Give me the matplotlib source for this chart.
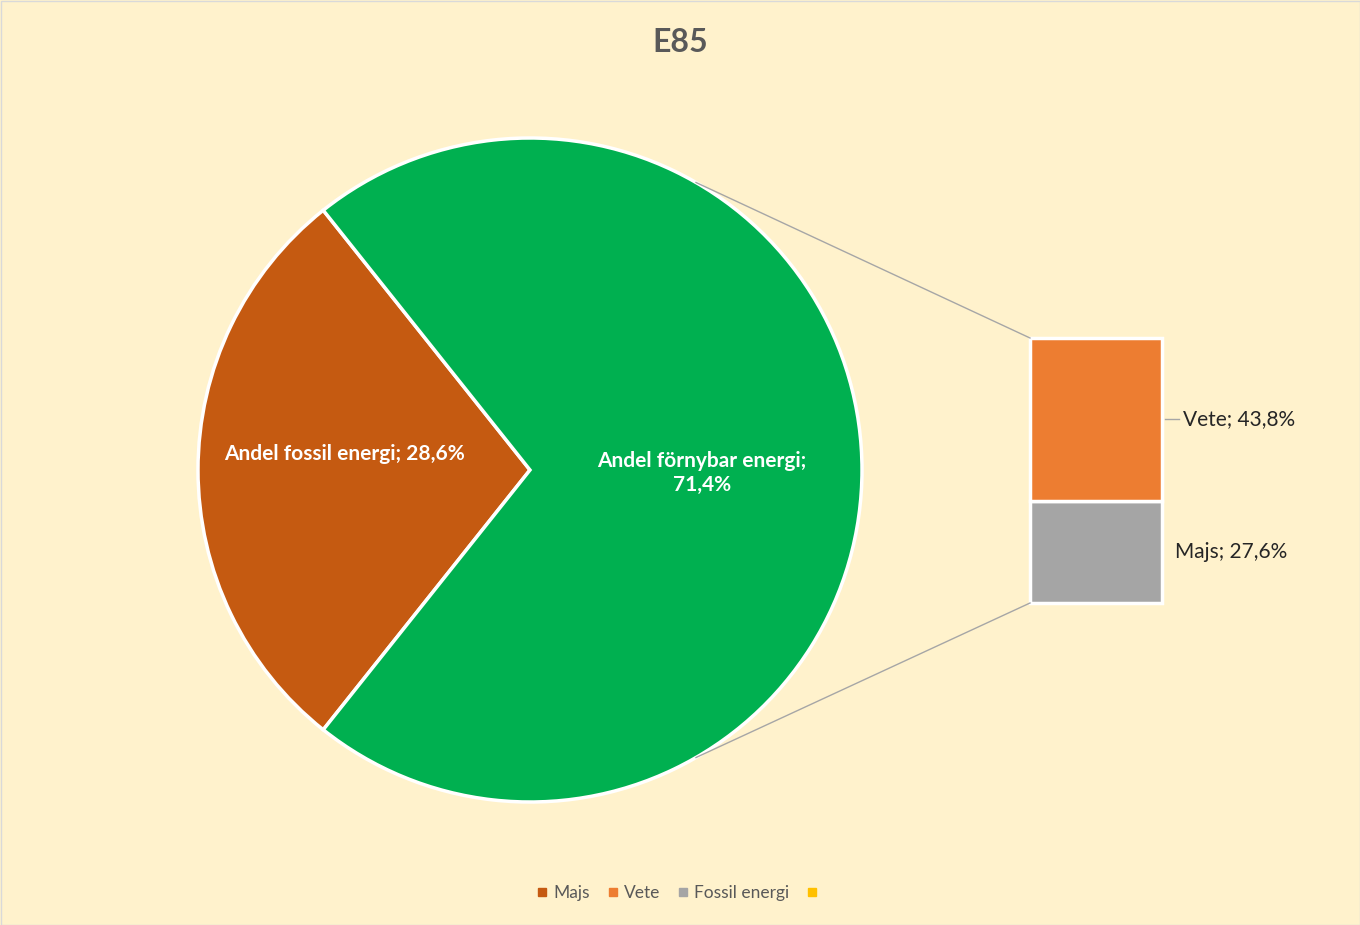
import numpy as np
import matplotlib.pyplot as plt
from matplotlib.patches import Rectangle
from matplotlib.lines import Line2D

# data
pie_labels = ['Andel fossil energi', 'Andel förnybar energi']
pie_values = [28.6, 71.4]
bar_labels = ['Vete', 'Majs']
bar_values = [43.8, 27.6]
legend_labels = ['Majs', 'Vete', 'Fossil energi', '']

pie_colors = ['#C55A11', '#00B050']
bar_colors = ['#ED7D31', '#A5A5A5']
legend_colors = ['#C55A11', '#ED7D31', '#A5A5A5', '#FFC000']

plt.rcParams['font.family'] = ['Lato', 'DejaVu Sans']

W, H = 1360, 925
fig = plt.figure(figsize=(W / 100, H / 100), dpi=100, facecolor='#FFF2CC')
ax = fig.add_axes([0, 0, 1, 1])

# pie
cx, cy, r = 530, H - 470, 332
start = 180 - pie_values[0] * 3.6 / 2
wedges, _ = ax.pie(pie_values, colors=pie_colors, startangle=start, center=(cx, cy),
                   radius=r, wedgeprops=dict(edgecolor='white', linewidth=2.5), frame=True)
ax.set_xlim(0, W)
ax.set_ylim(0, H)
ax.set_aspect('equal')
ax.axis('off')

ax.text(344, cy + 16, 'Andel fossil energi; 28,6%', color='white', fontsize=15,
        fontweight='bold', ha='center', va='center')
ax.text(702, cy - 3, 'Andel förnybar energi;\n71,4%', color='white', fontsize=15,
        fontweight='bold', ha='center', va='center', linespacing=1.3)

# stacked bar of the renewable part
bx0, bx1 = 1030, 1162
btop, bbot = H - 338, H - 603
scale = (btop - bbot) / sum(bar_values)
bottom = bbot
for lab, val, col in list(zip(bar_labels, bar_values, bar_colors))[::-1]:
    ax.bar((bx0 + bx1) / 2, val * scale, width=bx1 - bx0, bottom=bottom, color=col,
           edgecolor='white', linewidth=2.5)
    bottom += val * scale

# labels
vmid = bbot + bar_values[1] * scale + bar_values[0] * scale / 2
ax.plot([bx1 + 3, bx1 + 17], [vmid, vmid], color='#A6A6A6', lw=1)
ax.text(bx1 + 21, vmid, 'Vete; 43,8%', fontsize=15, color='#262626', ha='left', va='center')
mmid = bbot + bar_values[1] * scale / 2
ax.text(bx1 + 13, mmid, 'Majs; 27,6%', fontsize=15, color='#262626', ha='left', va='center')

# connector lines
a = np.deg2rad(60)
ax.plot([cx + r * np.cos(a), bx0], [cy + r * np.sin(a), btop], color='#A6A6A6', lw=1)
ax.plot([cx + r * np.cos(a), bx0], [cy - r * np.sin(a), bbot], color='#A6A6A6', lw=1)

# title
ax.text(W / 2, H - 42, 'E85', fontsize=23, fontweight='bold', color='#595959',
        ha='center', va='center')

# legend
handles = [Line2D([], [], marker='s', linestyle='none', markersize=6, color=c) for c in legend_colors]
fig.legend(handles, legend_labels, loc='center', bbox_to_anchor=(0.5, 1 - 893 / H), ncol=4,
           frameon=False, fontsize=12.5, labelcolor='#595959', handlelength=0.6,
           handletextpad=0.35, columnspacing=1.0)

# border
ax.add_patch(Rectangle((0.5, 0.5), W - 1, H - 1, fill=False, edgecolor='#D9D9D9', lw=1))

fig.savefig('out.png', dpi=100, facecolor=fig.get_facecolor())
